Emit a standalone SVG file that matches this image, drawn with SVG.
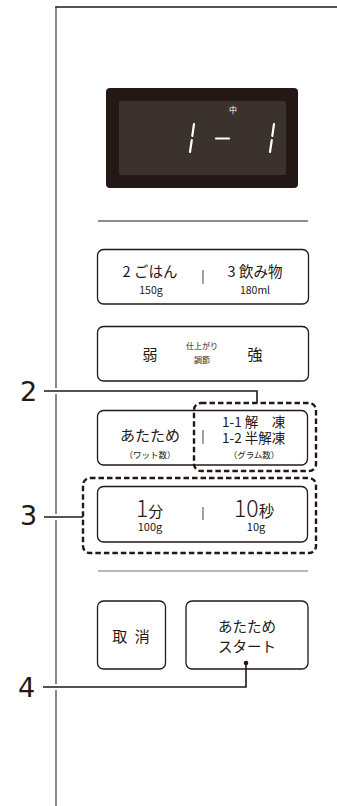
<svg xmlns="http://www.w3.org/2000/svg" width="337" height="806" viewBox="0 0 337 806">
<style>
.jp{font-family:"Noto Sans CJK JP","Noto Sans",sans-serif;fill:#231815}
.btn{fill:#fff;stroke:#231815;stroke-width:1.3}
.sep{stroke:#555;stroke-width:1.1}
.lbl{font-family:"DejaVu Sans",sans-serif;font-size:27px;fill:#231815}
.lead{fill:none;stroke:#231815;stroke-width:1.6}
.halo{fill:none;stroke:#fff;stroke-width:6}
.dash{fill:none;stroke:#231815;stroke-width:2.4;stroke-dasharray:5.5 3}
.seg{stroke:#fff;stroke-width:2.2;stroke-linecap:round}
</style>
<rect width="337" height="806" fill="#fff"/>
<g id="panel">
<line x1="56" y1="7" x2="56" y2="806" stroke="#6f6a67" stroke-width="1.6"/>
<line x1="55.2" y1="7" x2="337" y2="7" stroke="#231815" stroke-width="1.6"/>
<line x1="98" y1="221" x2="308" y2="221" stroke="#231815" stroke-width="1.2"/>
<line x1="98" y1="571" x2="308" y2="571" stroke="#77716e" stroke-width="1.2"/>
</g>
<g id="display">
<rect x="106" y="88" width="192" height="100" rx="4" fill="#231815"/>
<rect x="119" y="101" width="167" height="74" rx="2" fill="#3b312d"/>
<text x="233" y="113" class="jp" style="fill:#fff;font-size:8px" text-anchor="middle">中</text>
<line class="seg" x1="194" y1="124" x2="192.3" y2="136"/>
<line class="seg" x1="191.8" y1="140" x2="190" y2="152"/>
<line class="seg" x1="216" y1="138.5" x2="229" y2="138.5"/>
<line class="seg" x1="274" y1="124" x2="272.3" y2="136"/>
<line class="seg" x1="271.8" y1="140" x2="270" y2="152"/>
</g>
<g id="btn-gohan">
<rect class="btn" x="97.5" y="249.5" width="211" height="54.5" rx="6"/>
<text x="150" y="277" class="jp" style="font-size:14.5px" text-anchor="middle">2 ごはん</text>
<text x="151" y="294" class="jp" style="font-size:10.5px" text-anchor="middle">150g</text>
<line class="sep" x1="203" y1="270" x2="203" y2="284"/>
<text x="255" y="277" class="jp" style="font-size:14.5px" text-anchor="middle">3 飲み物</text>
<text x="255" y="294" class="jp" style="font-size:10.5px" text-anchor="middle">180ml</text>
</g>
<g id="btn-finish">
<rect class="btn" x="97.5" y="326.5" width="211" height="54.5" rx="6"/>
<text x="150" y="360" class="jp" style="font-size:15px" text-anchor="middle">弱</text>
<text x="202" y="349" class="jp" style="font-size:8px" text-anchor="middle">仕上がり</text>
<text x="202" y="363" class="jp" style="font-size:8px" text-anchor="middle">調節</text>
<text x="255" y="360" class="jp" style="font-size:15px" text-anchor="middle">強</text>
</g>
<g id="btn-warm">
<rect class="btn" x="97.5" y="410.5" width="210" height="54.5" rx="6"/>
<text x="150" y="441" class="jp" style="font-size:15px" text-anchor="middle">あたため</text>
<text x="150" y="458" class="jp" style="font-size:8.5px" text-anchor="middle">（ワット数）</text>
<line class="sep" x1="203" y1="430" x2="203" y2="444"/>
<text x="222" y="427" class="jp" style="font-size:13.5px">1-1 解　凍</text>
<text x="222" y="443" class="jp" style="font-size:13.5px">1-2 半解凍</text>
<text x="254" y="458" class="jp" style="font-size:8.5px" text-anchor="middle">（グラム数）</text>
</g>
<g id="btn-time">
<rect class="btn" x="97.5" y="486.5" width="210" height="55.5" rx="6"/>
<text x="136" y="517" class="jp"><tspan style="font-size:23px;font-weight:300">1</tspan><tspan style="font-size:15px">分</tspan></text>
<text x="150" y="531" class="jp" style="font-size:11px" text-anchor="middle">100g</text>
<line class="sep" x1="203" y1="507" x2="203" y2="520"/>
<text x="234" y="517" class="jp"><tspan style="font-size:23px;font-weight:300">10</tspan><tspan style="font-size:15.5px">秒</tspan></text>
<text x="256" y="531" class="jp" style="font-size:11px" text-anchor="middle">10g</text>
</g>
<g id="btn-cancel">
<rect class="btn" x="97.5" y="601" width="68" height="68" rx="6"/>
<text x="132" y="642" class="jp" style="font-size:15px;letter-spacing:2px" text-anchor="middle">取 消</text>
</g>
<g id="btn-start">
<rect class="btn" x="186" y="601" width="122" height="68" rx="6"/>
<text x="247" y="632" class="jp" style="font-size:14.5px" text-anchor="middle">あたため</text>
<text x="247" y="652" class="jp" style="font-size:14.5px" text-anchor="middle">スタート</text>
</g>
<g id="highlights">
<rect class="dash" x="194" y="403" width="122" height="68" rx="7"/>
<rect class="dash" x="83" y="478" width="233" height="75" rx="7"/>
</g>
<g id="connectors">
<line class="halo" x1="50" y1="391" x2="62" y2="391"/>
<line class="halo" x1="50" y1="517" x2="62" y2="517"/>
<line class="halo" x1="50" y1="687" x2="62" y2="687"/>
<polyline class="lead" points="44,391 257,391 257,403"/>
<polyline class="lead" points="44,517 83,517"/>
<polyline class="lead" points="43,687 246,687 246,663"/>
<circle cx="246" cy="663" r="2.3" fill="#231815"/>
</g>
<g id="labels">
<text x="20" y="401" class="lbl">2</text>
<text x="20" y="525" class="lbl">3</text>
<text x="18" y="697" class="lbl">4</text>
</g>
</svg>
